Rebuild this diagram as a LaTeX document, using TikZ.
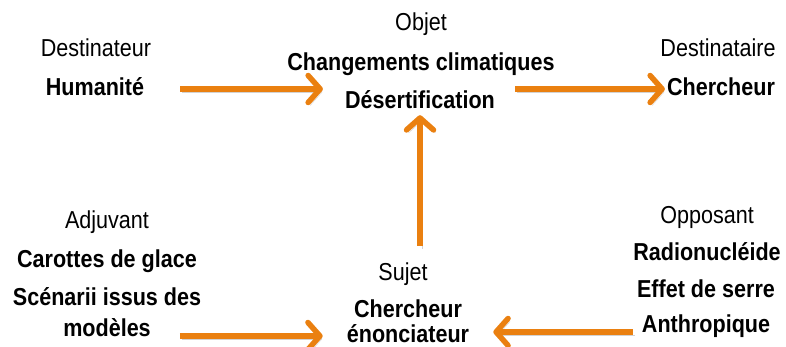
\documentclass[tikz,border=0pt]{standalone}
\usepackage{fontspec}
\setmainfont[FakeStretch=0.88]{Liberation Sans}
\usepackage{xcolor}
\usepackage{tikz}
\usetikzlibrary{arrows.meta}
\definecolor{actorange}{HTML}{EA8010}
\definecolor{actshadow}{HTML}{7F7F7F}
\tikzset{
  role/.style={inner sep=0pt,anchor=base,text height=18pt,text depth=4pt,font=\fontsize{24.5pt}{28pt}\selectfont},
  actant/.style={role,font=\fontsize{24.5pt}{28pt}\selectfont\bfseries},
  flow/.style={-{Straight Barb[length=12pt,width=27pt,line cap=round,line join=round]},line width=5.5pt,draw=actorange,
    preaction={draw=actshadow,opacity=.35,transform canvas={shift={(2pt,-3pt)}}}}
}
\begin{document}
\begin{tikzpicture}[x=1pt,y=-1pt]
\useasboundingbox (0,0) rectangle (786,347);
% objet
\node[role] (obj) at (421,31) {Objet};
\node[actant] (chg) at (421,71) {Changements climatiques};
\node[actant] (des) at (420,109) {Désertification};
% destinateur / destinataire
\node[role] (dtr) at (96,57) {Destinateur};
\node[actant] (hum) at (95,96) {Humanité};
\node[role] (dta) at (718,57) {Destinataire};
\node[actant] (chr) at (721,96) {Chercheur};
% adjuvant
\node[role] (adj) at (107,229) {Adjuvant};
\node[actant] (car) at (107,267) {Carottes de glace};
\node[actant] (sce) at (107,305) {Scénarii issus des};
\node[actant] (mod) at (107,336) {modèles};
% sujet
\node[role] (suj) at (403,280) {Sujet};
\node[actant] (che) at (408,317) {Chercheur};
\node[actant] (eno) at (408,342) {énonciateur};
% opposant
\node[role] (opp) at (707,223) {Opposant};
\node[actant] (rad) at (707,260) {Radionucléide};
\node[actant] (eff) at (706,297) {Effet de serre};
\node[actant] (ant) at (706,332) {Anthropique};
\draw[flow,shorten <=36pt,shorten >=22pt] (hum.east) -- (hum.east -| des.west);
\draw[flow,shorten <=20pt,shorten >=2pt] (des.east |- chr.west) -- (chr.west);
\draw[flow,shorten <=16pt,shorten >=2pt] (des.south |- suj.north) -- (des.south);
\draw[flow,shorten <=29pt,shorten >=24pt] (mod.base east) -- (mod.base east -| eno.west);
\draw[flow,shorten <=9pt,shorten >=24pt] (ant.base west) -- (ant.base west -| eno.east);
\end{tikzpicture}
\end{document}
